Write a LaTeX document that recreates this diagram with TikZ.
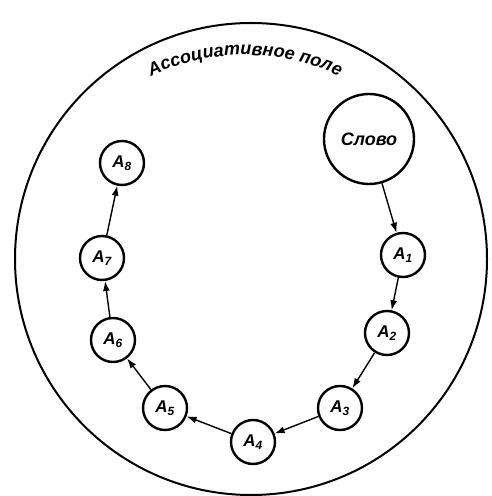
\documentclass[tikz,border=0pt]{standalone}
\usepackage{fontspec}
\setmainfont{Liberation Sans}
\usetikzlibrary{arrows.meta,decorations.text}
\begin{document}
\begin{tikzpicture}[x=1pt,y=1pt,
  assoc/.style={circle,draw,line width=2.4pt,minimum size=44pt,inner sep=0pt,font=\fontsize{17}{17}\selectfont\bfseries\itshape},
  word/.style={circle,draw,line width=2.4pt,minimum size=90pt,inner sep=0pt,font=\fontsize{18}{18}\selectfont\bfseries\itshape},
  link/.style={line width=1.4pt,-{Latex[length=10pt,width=7pt]}}]
\useasboundingbox (0,0) rectangle (492,496);
\node[circle,draw,line width=2pt,minimum size=472pt,inner sep=0pt] (field) at (251,237) {};
\path[decorate,decoration={text along path,text align=center,
  text={|\fontsize{18}{18}\selectfont\bfseries\itshape|Ассоциативное поле}}]
  (245,221) ++(120:220) arc (120:60:220);
\node[word] (w) at (369,357) {Слово};
\node[assoc] (a1) at (403,241) {A\textsubscript{1}};
\node[assoc] (a2) at (387,163) {A\textsubscript{2}};
\node[assoc] (a3) at (340,88) {A\textsubscript{3}};
\node[assoc] (a4) at (253,54) {A\textsubscript{4}};
\node[assoc] (a5) at (165,88) {A\textsubscript{5}};
\node[assoc] (a6) at (113,156) {A\textsubscript{6}};
\node[assoc] (a7) at (102,238) {A\textsubscript{7}};
\node[assoc] (a8) at (122,333) {A\textsubscript{8}};
\draw[link] (w) -- (a1);
\draw[link] (a1) -- (a2);
\draw[link] (a2) -- (a3);
\draw[link] (a3) -- (a4);
\draw[link] (a4) -- (a5);
\draw[link] (a5) -- (a6);
\draw[link] (a6) -- (a7);
\draw[link] (a7) -- (a8);
\end{tikzpicture}
\end{document}
